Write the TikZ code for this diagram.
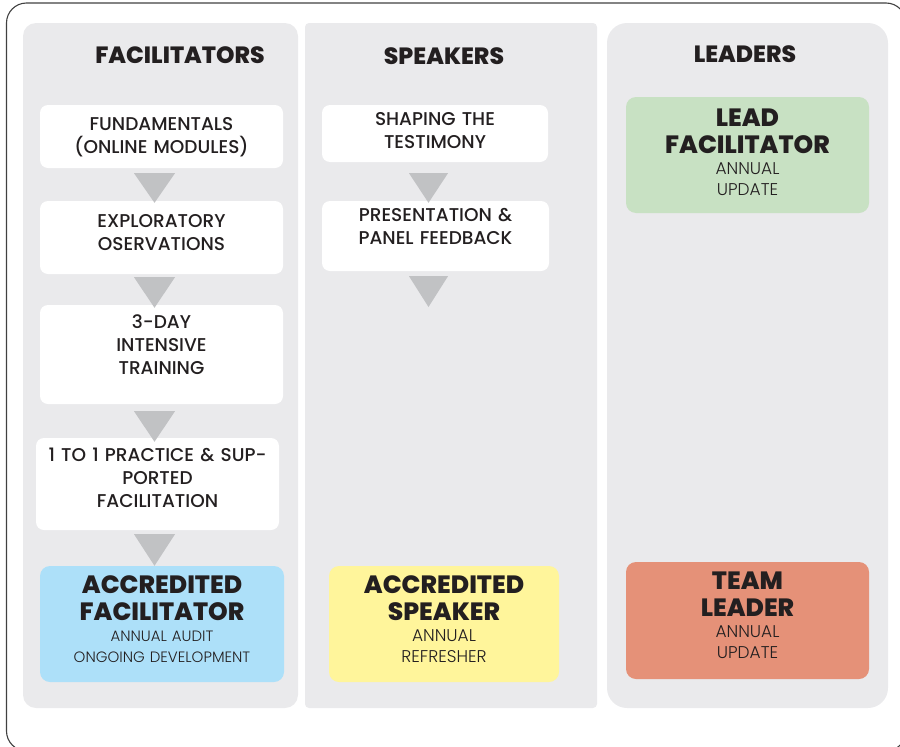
\documentclass[tikz,border=0pt]{standalone}
\usepackage{fontspec}
\setmainfont{Poppins}
\IfFontExistsTF{Poppins ExtraBold}{\newfontfamily\heavyfont{Poppins ExtraBold}}{\newcommand\heavyfont{\bfseries}}
\IfFontExistsTF{Poppins Light}{\newfontfamily\lightfont{Poppins Light}}{\newcommand\lightfont{}}
\IfFontExistsTF{Poppins Medium}{\newfontfamily\mediumfont{Poppins Medium}}{\newcommand\mediumfont{}}
\usetikzlibrary{calc}
\definecolor{panelgray}{HTML}{EAEAEC}
\definecolor{trigray}{HTML}{C1C2C4}
\definecolor{inkblack}{HTML}{231F20}
\definecolor{accblue}{HTML}{ADE0F9}
\definecolor{accyellow}{HTML}{FFF59B}
\definecolor{leadgreen}{HTML}{C8E1C3}
\definecolor{teamsalmon}{HTML}{E59178}
\newcommand\headfont{\fontsize{23.5}{27}\selectfont\heavyfont}
\newcommand\titlefont{\fontsize{25}{27}\selectfont\heavyfont}
\tikzset{
  panel/.style={fill=panelgray},
  colhead/.style={anchor=base,inner sep=0pt,font=\headfont,text=inkblack},
  stepbox/.style={fill=white,rounded corners=8pt,inner sep=0pt,align=center,anchor=base,
    text=inkblack,font=\fontsize{18.5}{23}\selectfont\mediumfont},
  goalbox/.style={rounded corners=10pt,inner sep=0pt,align=center,anchor=base,
    text=inkblack,font=\fontsize{15}{21}\selectfont\lightfont},
  bignote/.style={font=\fontsize{17}{21}\selectfont\lightfont},
  stepfill/.style={fill=trigray}
}

\begin{document}
\begin{tikzpicture}[x=1pt,y=-1pt]
\useasboundingbox (0,0) rectangle (900,747);
\draw[line width=1.1pt,draw=black!75,rounded corners=20pt] (6.5,3) rectangle (906,751);
% columns
\fill[panel,rounded corners=13pt] (23,23) rectangle (298,708);
\fill[panel,rounded corners=4pt] (305,23) rectangle (597,708);
\fill[panel,rounded corners=20pt] (607,23) rectangle (888,708);
\node[colhead] (hfac) at (180,63) {FACILITATORS};
\node[colhead] (hspk) at (444,64) {SPEAKERS};
\node[colhead] (hlead) at (745,62) {LEADERS};

% facilitators
\node[stepbox,text width=243pt,text height=25pt,text depth=38pt] (fund) at (161.5,130) {FUNDAMENTALS\\(ONLINE MODULES)};
\node[stepbox,text width=243pt,text height=26pt,text depth=47pt] (expl) at (161.5,227) {EXPLORATORY\\OSERVATIONS};
\node[stepbox,text width=243pt,text height=23pt,text depth=76pt] (days) at (161.5,328) {3-DAY\\INTENSIVE\\TRAINING};
\node[stepbox,text width=243pt,text height=23pt,text depth=69pt] (prac) at (157.5,461) {1 TO 1 PRACTICE \& SUP-\\PORTED\\FACILITATION};
\node[goalbox,fill=accblue,text width=244pt,text height=27pt,text depth=89pt] (accfac) at (162,593)
  {{\titlefont ACCREDITED\\FACILITATOR\\}ANNUAL AUDIT\\ONGOING DEVELOPMENT};
\coordinate (tri1) at (154.5,0);
\fill[stepfill] ($(fund.south -| tri1)+(-20.5,5)$) -- ++(41,0) -- ($(expl.north -| tri1)+(0,2)$) -- cycle;
\fill[stepfill] ($(expl.south -| tri1)+(-20.5,3)$) -- ++(41,0) -- ($(days.north -| tri1)+(0,3)$) -- cycle;
\fill[stepfill] ($(days.south -| tri1)+(-20.5,7)$) -- ++(41,0) -- ($(prac.north -| tri1)+(0,4)$) -- cycle;
\fill[stepfill] ($(prac.south -| tri1)+(-20.5,4)$) -- ++(41,0) -- (accfac.north -| tri1) -- cycle;

% speakers
\node[stepbox,text width=226pt,text height=20pt,text depth=37pt] (shape) at (435,125) {SHAPING THE\\TESTIMONY};
\node[stepbox,text width=227pt,text height=20pt,text depth=50pt] (pres) at (435.5,221) {PRESENTATION \&\\PANEL FEEDBACK};
\node[goalbox,bignote,fill=accyellow,text width=230pt,text height=27pt,text depth=89pt] (accspk) at (444,593)
  {{\titlefont ACCREDITED\\SPEAKER\\}ANNUAL\\REFRESHER};
\coordinate (tri2) at (428.5,0);
\coordinate (spkend) at (428.5,307);
\fill[stepfill] ($(shape.south -| tri2)+(-19.5,11)$) -- ++(39,0) -- ($(pres.north -| tri2)+(0,2)$) -- cycle;
\fill[stepfill] ($(pres.south -| tri2)+(-19.5,5)$) -- ++(39,0) -- (spkend) -- cycle;

% leaders
\node[goalbox,bignote,fill=leadgreen,text width=243pt,text height=29pt,text depth=87pt] (leadfac) at (747.5,126)
  {{\titlefont LEAD\\FACILITATOR\\}ANNUAL\\UPDATE};
\node[goalbox,bignote,fill=teamsalmon,text width=243pt,text height=27pt,text depth=90pt] (teamlead) at (747.5,589)
  {{\titlefont TEAM\\LEADER\\}ANNUAL\\UPDATE};
\end{tikzpicture}
\end{document}
